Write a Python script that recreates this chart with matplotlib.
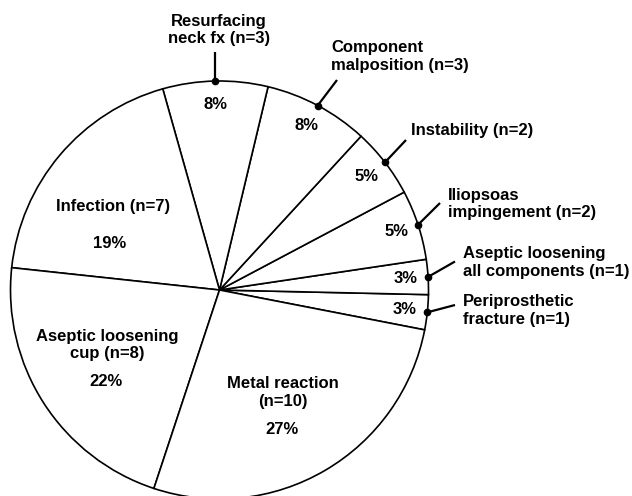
import numpy as np
import matplotlib.pyplot as plt

# revision causes, listed counter-clockwise from the periprosthetic wedge
causes = [
    "Periprosthetic\nfracture (n=1)",
    "Aseptic loosening\nall components (n=1)",
    "Iliopsoas\nimpingement (n=2)",
    "Instability (n=2)",
    "Component\nmalposition (n=3)",
    "Resurfacing\nneck fx (n=3)",
    "Infection (n=7)",
    "Aseptic loosening\ncup (n=8)",
    "Metal reaction\n(n=10)",
]
counts = [1, 1, 2, 2, 3, 3, 7, 8, 10]

W, H = 632, 496
plt.rcParams["font.family"] = ["Liberation Sans", "DejaVu Sans"]
plt.rcParams["font.weight"] = "bold"
FS = 12
LS = 1.2

fig = plt.figure(figsize=(W / 100, H / 100), dpi=100)
ax = fig.add_axes([0, 0, 1, 1])

cx, cy, R = 219.5, H - 290, 209
start = -11
ax.pie(counts, startangle=start, counterclock=True, center=(cx, cy), radius=R,
       colors=["white"] * len(counts),
       wedgeprops=dict(edgecolor="black", linewidth=1.2))
ax.set_xlim(0, W)
ax.set_ylim(0, H)
ax.set_aspect("equal")
ax.axis("off")

total = sum(counts)
pcts = [f"{round(100 * c / total)}%" for c in counts]
cum = np.cumsum([0] + counts)
mids = start + 360 * (cum[:-1] + cum[1:]) / 2 / total

def px(x, y):
    return x, H - y

# small wedges: percentage inside, label outside with a leader line
leader_ends = [(455, 305), (455, 261.5), (440, 203), (406, 140), (337, 80), None]
text_pos = [(463, 310.5), (463, 262.5), (448, 204), (411, 131), (331, 56.5), (219, 30)]
for i in range(6):
    a = np.radians(mids[i])
    dx, dy = cx + R * np.cos(a), cy + R * np.sin(a)
    tx, ty = cx + 0.89 * R * np.cos(a), cy + 0.89 * R * np.sin(a)
    ax.text(tx, ty, pcts[i], ha="center", va="center", fontsize=FS)
    if leader_ends[i] is None:
        ex, ey = dx, H - 52
    else:
        ex, ey = px(*leader_ends[i])
    ax.plot([dx, ex], [dy, ey], color="black", lw=1.6, solid_capstyle="butt")
    ax.plot(dx, dy, "o", color="black", markersize=4.5)
    ha = "center" if i == 5 else "left"
    ax.text(*px(*text_pos[i]), causes[i], ha=ha, va="center",
            fontsize=FS, linespacing=LS)

# large wedges: label and percentage inside
inner = {6: ((113, 206), (110, 244)),
         7: ((107, 345), (106, 381)),
         8: ((283, 392.5), (282, 430))}
for i, (lab, pc) in inner.items():
    ax.text(*px(*lab), causes[i], ha="center", va="center", fontsize=FS,
            linespacing=LS)
    ax.text(*px(*pc), pcts[i], ha="center", va="center", fontsize=FS)

fig.savefig("out.png", dpi=100)
